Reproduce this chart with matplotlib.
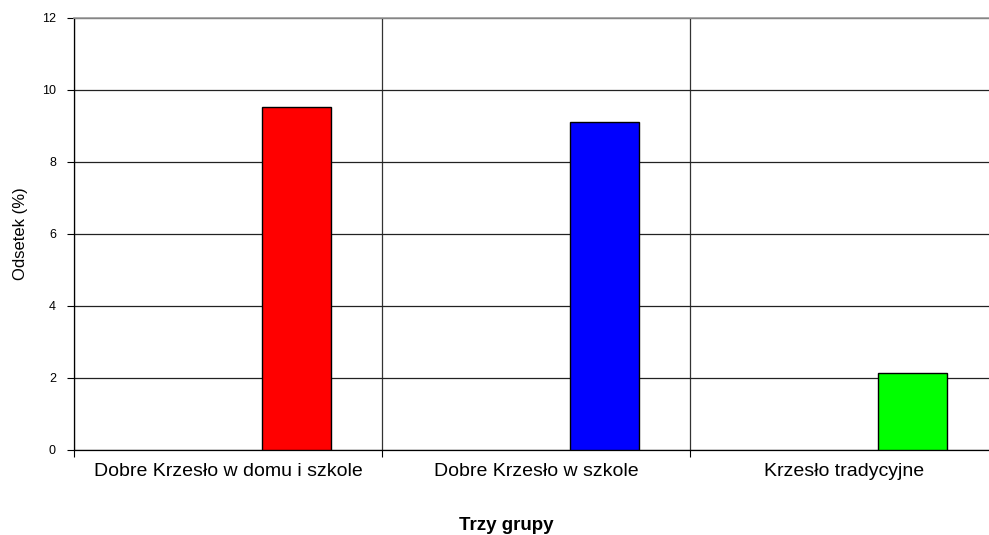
import matplotlib
matplotlib.use("Agg")
import matplotlib.pyplot as plt
from matplotlib.ticker import FixedLocator, NullFormatter

plt.rcParams['font.family'] = ['Liberation Sans', 'DejaVu Sans']

categories = ["Dobre Krzesło w domu i szkole", "Dobre Krzesło w szkole", "Krzesło tradycyjne"]
values = [9.53, 9.11, 2.13]
colors = ["#ff0000", "#0000ff", "#00ff00"]
y_ticks = [0, 2, 4, 6, 8, 10, 12]

W, H = 989, 535
fig = plt.figure(figsize=(W / 100, H / 100), dpi=100)
left, right, top, bottom = 74, 998, 18, 450
ax = fig.add_axes([left / W, (H - bottom) / H, (right - left) / W, (bottom - top) / H])

xpos = list(range(len(categories)))
bar_w = 0.222
ax.bar([x + bar_w for x in xpos], values, width=bar_w, color=colors,
       edgecolor="black", linewidth=1.0, zorder=3)

ax.set_xlim(-0.5, len(categories) - 0.5)
ax.set_ylim(0, 12)
ax.set_yticks(y_ticks)
ax.set_yticklabels([str(t) for t in y_ticks], fontsize=9)

# category labels at centres, tick marks at category boundaries
ax.set_xticks(xpos)
ax.set_xticklabels(categories, fontsize=14)
ax.tick_params(axis='x', which='major', length=0, pad=9)
bounds = [x - 0.5 for x in xpos] + [len(categories) - 0.5]
ax.xaxis.set_minor_locator(FixedLocator(bounds))
ax.xaxis.set_minor_formatter(NullFormatter())
ax.tick_params(axis='x', which='minor', length=5, width=0.8, color='black')
ax.tick_params(axis='y', length=5, width=0.8, color='black', pad=8)

ax.yaxis.grid(True, color='#222222', linewidth=0.9, zorder=0)
ax.xaxis.grid(True, which='minor', color='#333333', linewidth=0.9, zorder=0)
ax.set_axisbelow(True)

for s in ['left', 'bottom']:
    ax.spines[s].set_color('black')
    ax.spines[s].set_linewidth(0.9)
ax.spines['top'].set_color('#999999')
ax.spines['top'].set_linewidth(1.2)
ax.spines['right'].set_visible(False)

ax.set_ylabel("Odsetek (%)", fontsize=12, labelpad=10)
fig.text(506 / W, 1 - 525 / H, "Trzy grupy",
         ha='center', va='center', fontsize=13.5, fontweight='bold')

fig.savefig("out.png", dpi=100, facecolor='white')
